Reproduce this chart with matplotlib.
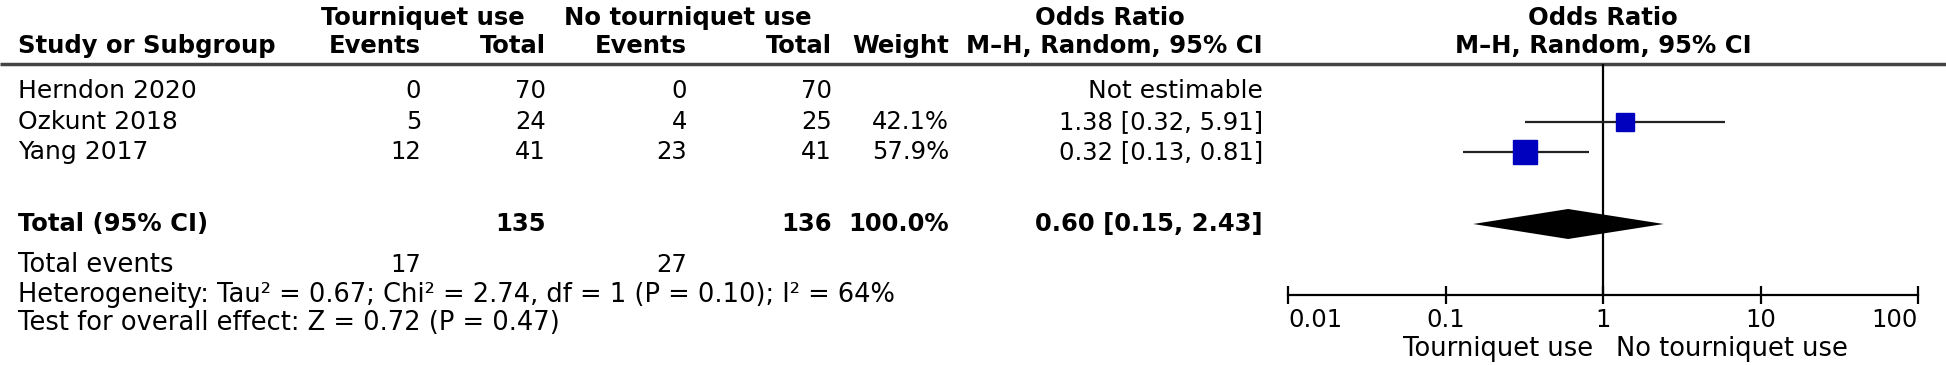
import matplotlib
matplotlib.use("Agg")
import matplotlib.pyplot as plt
import numpy as np

# study data
studies = ["Herndon 2020", "Ozkunt 2018", "Yang 2017"]
tq_events = [0, 5, 12]
tq_total = [70, 24, 41]
no_events = [0, 4, 23]
no_total = [70, 25, 41]
weights = [np.nan, 42.1, 57.9]
or_est = [np.nan, 1.38, 0.32]
or_lo = [np.nan, 0.32, 0.13]
or_hi = [np.nan, 5.91, 0.81]

# pooled result
pooled_tq_total, pooled_no_total = 135, 136
pooled_weight = 100.0
pooled_or, pooled_lo, pooled_hi = 0.60, 0.15, 2.43
total_events = [17, 27]
heterogeneity = "Heterogeneity: Tau² = 0.67; Chi² = 2.74, df = 1 (P = 0.10); I² = 64%"
overall = "Test for overall effect: Z = 0.72 (P = 0.47)"

xticks = [0.01, 0.1, 1, 10, 100]
xtick_labels = ["0.01", "0.1", "1", "10", "100"]

W, H = 1946, 365
plt.rcParams["font.family"] = "DejaVu Sans"
fs_num = 17.5   # numbers and bold headers
fs_txt = 18.5   # running text (DejaVu is narrower than the original font for letters)

fig = plt.figure(figsize=(W / 100, H / 100), dpi=100)
tab = fig.add_axes([0, 0, 1, 1])
tab.set_xlim(0, W)
tab.set_ylim(H, 0)
tab.axis("off")

# layout (pixels)
x_study = 18
x_ev1, x_tot1, x_ev2, x_tot2, x_w, x_or = 421, 546, 687, 832, 949, 1263
y_h1, y_h2, y_sep = 18, 46, 64
row_y = [91, 122, 152]
y_total, y_events, y_het, y_test = 224, 265, 295, 323
y_axis = 295

def t(x, y, s, ha="right", bold=False, fs=fs_num):
    tab.text(x, y, s, ha=ha, va="center", fontsize=fs,
             fontweight="bold" if bold else "normal")

# headers
t(423, y_h1, "Tourniquet use", ha="center", bold=True)
t(688, y_h1, "No tourniquet use", ha="center", bold=True)
t(1110, y_h1, "Odds Ratio", ha="center", bold=True)
t(x_study, y_h2, "Study or Subgroup", ha="left", bold=True)
t(x_ev1, y_h2, "Events", bold=True)
t(x_tot1, y_h2, "Total", bold=True)
t(x_ev2, y_h2, "Events", bold=True)
t(x_tot2, y_h2, "Total", bold=True)
t(x_w, y_h2, "Weight", bold=True)
t(x_or, y_h2, "M–H, Random, 95% CI", bold=True)
tab.plot([0, W], [y_sep, y_sep], color="#444444", lw=2.5, solid_capstyle="butt")

# study rows
for i, name in enumerate(studies):
    y = row_y[i]
    t(x_study, y, name, ha="left", fs=18)
    t(x_ev1, y, str(tq_events[i]))
    t(x_tot1, y, str(tq_total[i]))
    t(x_ev2, y, str(no_events[i]))
    t(x_tot2, y, str(no_total[i]))
    if np.isnan(or_est[i]):
        t(x_or, y, "Not estimable", fs=18)
    else:
        t(x_w, y, f"{weights[i]:.1f}%")
        t(x_or, y, f"{or_est[i]:.2f} [{or_lo[i]:.2f}, {or_hi[i]:.2f}]")

# total rows
t(x_study, y_total, "Total (95% CI)", ha="left", bold=True)
t(x_tot1, y_total, str(pooled_tq_total), bold=True)
t(x_tot2, y_total, str(pooled_no_total), bold=True)
t(x_w, y_total, f"{pooled_weight:.1f}%", bold=True)
t(x_or, y_total, f"{pooled_or:.2f} [{pooled_lo:.2f}, {pooled_hi:.2f}]", bold=True)
t(x_study, y_events, "Total events", ha="left", fs=fs_txt)
t(x_ev1, y_events, str(total_events[0]))
t(x_ev2, y_events, str(total_events[1]))
t(x_study, y_het, heterogeneity, ha="left", fs=fs_txt)
t(x_study, y_test, overall, ha="left", fs=fs_txt)

# forest plot
x0, x1 = 1288, 1918
ax = fig.add_axes([x0 / W, 0, (x1 - x0) / W, 1])
ax.patch.set_visible(False)
ax.set_xscale("log")
ax.set_xlim(0.01, 100)
ax.set_ylim(H, 0)
for s in ["left", "right", "top"]:
    ax.spines[s].set_visible(False)
ax.spines["bottom"].set_position(("data", y_axis))
ax.spines["bottom"].set_linewidth(1.6)
ax.yaxis.set_visible(False)
ax.set_xticks(xticks)
ax.set_xticklabels(xtick_labels, fontsize=fs_num)
ax.xaxis.set_minor_locator(matplotlib.ticker.NullLocator())
ax.tick_params(axis="x", direction="inout", length=13, width=1.6, pad=3)
labels = ax.get_xticklabels()
labels[0].set_ha("left")
labels[-1].set_ha("right")

ax.vlines(1, y_sep, y_axis, color="black", lw=1.6)
ax.text(1, y_h1, "Odds Ratio", ha="center", va="center", fontsize=fs_num, fontweight="bold")
ax.text(1, y_h2, "M–H, Random, 95% CI", ha="center", va="center", fontsize=fs_num, fontweight="bold")

for i in range(len(studies)):
    if np.isnan(or_est[i]):
        continue
    y = row_y[i]
    ax.hlines(y, or_lo[i], or_hi[i], color="#222222", lw=1.6)
    side = weights[i] * 0.43 * 0.72
    ax.plot(or_est[i], y, marker="s", ms=side, color="#0000BF", mec="#0000BF", ls="none")

dh = 15
ax.fill([pooled_lo, pooled_or, pooled_hi, pooled_or],
        [y_total, y_total - dh, y_total, y_total + dh], color="black", lw=0)

ax.annotate("Tourniquet use", (1, 349), xytext=(-7, 0), textcoords="offset points",
            ha="right", va="center", fontsize=fs_txt)
ax.annotate("No tourniquet use", (1, 349), xytext=(9, 0), textcoords="offset points",
            ha="left", va="center", fontsize=fs_txt)

fig.savefig("out.png", dpi=100)
